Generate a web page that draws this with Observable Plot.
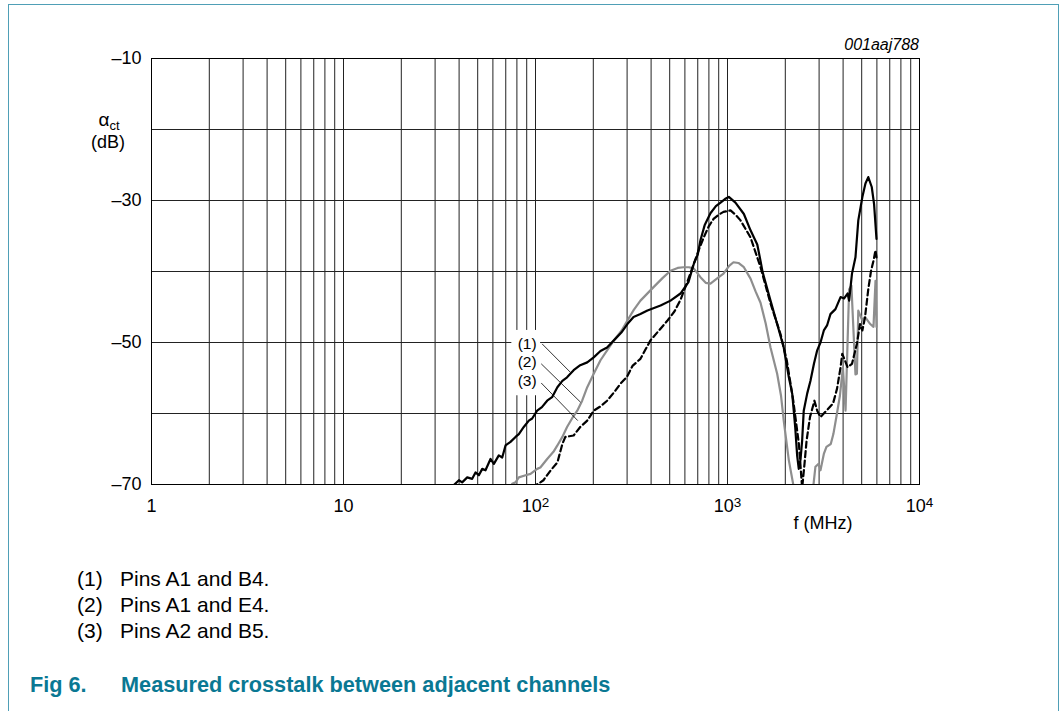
<!DOCTYPE html>
<html>
<head>
<meta charset="utf-8">
<script src="https://cdn.jsdelivr.net/npm/d3@7"></script>
<script src="https://cdn.jsdelivr.net/npm/@observablehq/plot@0.6"></script>
<style>
  html, body { margin: 0; padding: 0; background: #fff; }
  body { font-family: "Liberation Sans", Arial, sans-serif; color: #000; }
  #wrap { position: relative; width: 1063px; height: 711px; overflow: hidden; }
  #border { position: absolute; left: 8px; top: 4px; width: 1049px; height: 780px;
            border: 1.5px solid #4f9fb6; border-bottom: none; }
  #chart { position: absolute; left: 0; top: 0; }
  .lbl { position: absolute; white-space: nowrap; line-height: 1; }
  .leg { position: absolute; font-size: 21px; line-height: 1; white-space: nowrap; }
  .cap { position: absolute; font-size: 21.7px; font-weight: bold; color: #0a7893; line-height: 1; white-space: nowrap; }
</style>
</head>
<body>
<div id="wrap">
  <div id="border"></div>
  <div id="chart"></div>
  <div class="lbl" style="right:144px; top:37px; font-size:16px; font-style:italic;">001aaj788</div>
  <div class="lbl" style="left:86px; top:110px; width:46px; text-align:center; font-size:19px;">α<span style="font-size:13px; position:relative; top:4px;">ct</span></div>
  <div class="lbl" style="left:84px; top:133px; width:48px; text-align:center; font-size:18px;">(dB)</div>
  <div class="lbl" style="left:782px; top:514px; width:82px; text-align:center; font-size:18px;">f (MHz)</div>
  <div id="legend"></div>
  <div class="cap" style="left:30px; top:674px;">Fig 6.</div>
  <div class="cap" style="left:121px; top:674px;">Measured crosstalk between adjacent channels</div>
</div>
<script>
// ---- Data ----
// Curve (1): Pins A1 and B4 (solid black)
const freq1 = [36, 37.5, 39.9, 41.5, 44.1, 46.8, 48.7, 50.7, 52.8, 54.9, 58.3, 60.7, 64.4, 67.1, 69.8, 74.1, 78.7, 81.9, 86.9, 92.3, 96.1, 102, 108, 115, 122, 130, 138, 146, 158, 171, 186, 201, 218, 236, 256, 280, 301, 324, 352, 383, 448, 505, 569, 626, 668, 700, 723, 760, 815, 870, 920, 970, 1016, 1100, 1217, 1318, 1429, 1486, 1521, 1675, 1814, 1963, 2087, 2173, 2252, 2307, 2351, 2400, 2448, 2495, 2600, 2705, 2820, 2932, 3050, 3175, 3300, 3437, 3650, 3880, 4050, 4220, 4300, 4450, 4640, 4800, 5040, 5230, 5410, 5640, 5800, 5970];
const db1   = [-70.8, -70.1, -69.4, -69.7, -69.0, -69.2, -68.3, -68.7, -67.8, -68.0, -66.4, -67.1, -65.9, -66.2, -64.5, -64.0, -63.3, -62.9, -61.9, -61.0, -60.7, -59.6, -59.1, -58.2, -57.7, -56.3, -55.4, -54.9, -53.9, -53.2, -52.8, -52.1, -51.2, -50.7, -49.7, -48.6, -47.4, -46.4, -46.0, -45.5, -44.8, -44.1, -43.1, -41.5, -38.9, -37.6, -35.6, -33.5, -31.8, -30.8, -30.3, -29.8, -29.5, -30.3, -31.9, -34.2, -36.2, -38.5, -40.0, -44.1, -47.4, -50.7, -54.9, -57.2, -61.9, -66.0, -67.8, -66.5, -63.8, -59.6, -57.2, -55.4, -53.0, -51.1, -50.0, -48.3, -47.6, -46.0, -45.3, -43.6, -43.8, -43.1, -44.1, -40.3, -38.0, -32.8, -29.5, -27.6, -26.7, -28.1, -30.5, -35.4];

// Curve (2): Pins A1 and E4 (dashed black)
const freq2 = [98, 100, 106, 110, 120, 130, 138, 143, 150, 158, 171, 186, 201, 218, 236, 257, 277, 300, 320, 352, 397, 440, 487, 530, 569, 613, 668, 710, 752, 800, 846, 900, 953, 1037, 1100, 1169, 1318, 1486, 1675, 1888, 2035, 2201, 2354, 2448, 2520, 2582, 2690, 2836, 2932, 3050, 3276, 3545, 3720, 3880, 3960, 4100, 4220, 4450, 4720, 4900, 5040, 5200, 5410, 5600, 5760, 5900, 5970];
const db2   = [-70.6, -70.1, -69.7, -69.4, -68.0, -66.9, -64.3, -63.3, -63.2, -63.1, -61.9, -61.0, -59.6, -59.0, -58.2, -57.0, -55.8, -54.8, -53.3, -52.3, -49.7, -48.3, -46.9, -45.6, -44.0, -41.7, -38.9, -36.9, -35.2, -33.6, -32.6, -32.0, -31.6, -31.4, -32.0, -32.8, -35.2, -39.4, -44.5, -48.8, -52.5, -58.2, -64.3, -70.5, -67.0, -63.8, -60.5, -58.2, -59.6, -60.5, -59.6, -58.6, -56.5, -53.5, -51.6, -52.6, -53.5, -53.0, -50.2, -47.4, -48.3, -46.5, -42.5, -39.8, -38.5, -37.0, -38.0];

// Curve (3): Pins A2 and B5 (grey)
const freq3 = [75.6, 78.7, 81.9, 88.8, 94.2, 102, 106, 115, 124, 130, 138, 146, 155, 165, 175, 186, 201, 218, 236, 256, 281, 301, 325, 352, 412, 460, 505, 550, 590, 630, 668, 723, 770, 815, 880, 953, 1020, 1074, 1140, 1217, 1318, 1400, 1486, 1580, 1675, 1814, 1900, 1963, 2087, 2200, 2450, 2805, 2870, 2980, 3050, 3175, 3276, 3450, 3560, 3690, 3850, 3990, 4120, 4300, 4420, 4640, 4720, 4800, 5040, 5200, 5540, 5760, 5900, 5970];
const db3   = [-69.9, -69.7, -69.0, -68.7, -68.5, -67.8, -67.6, -66.4, -65.4, -64.5, -63.3, -61.9, -60.7, -59.6, -58.2, -56.3, -54.4, -52.5, -51.1, -49.7, -48.3, -46.9, -45.4, -44.1, -42.2, -40.9, -39.9, -39.5, -39.4, -39.4, -39.6, -40.8, -41.6, -41.7, -41.0, -40.3, -39.2, -38.7, -38.8, -39.4, -41.0, -42.8, -44.4, -47.3, -50.7, -54.4, -57.5, -61.0, -66.6, -70.0, -80.0, -70.0, -67.5, -67.1, -68.0, -65.7, -64.7, -64.3, -62.9, -60.5, -57.5, -53.5, -59.6, -42.5, -42.0, -54.5, -54.4, -45.5, -46.9, -46.4, -47.4, -47.8, -41.3, -47.8];

// Axes
const xGridValues = [1,2,3,4,5,6,7,8,9,10,20,30,40,50,60,70,80,90,100,200,300,400,500,600,700,800,900,1000,2000,3000,4000,5000,6000,7000,8000,9000,10000];
const xTickValues = [1, 10, 100, 1000, 10000];
const xTickLabels = ["1", "10", "10^2", "10^3", "10^4"];
const yGridValues = [-10, -20, -30, -40, -50, -60, -70];
const yTickValues = [-10, -30, -50, -70];
const yTickLabels = ["–10", "–30", "–50", "–70"];

// Curve labels and their leader lines
const curveLabels = ["(1)", "(2)", "(3)"];
const labelFreq = [90.5, 90.5, 90.5];
const labelDb = [-50.2, -52.8, -55.4];
const leaderF1 = [108.3, 107.1, 107.1];
const leaderDb1 = [-50.2, -53.0, -55.7];
const leaderF2 = [152, 171.5, 166];
const leaderDb2 = [-54.2, -58.4, -61.0];
const labelBoxF = [75.3, 106.3];
const labelBoxDb = [-48.3, -57.5];

// Legend
const legendKeys = ["(1)", "(2)", "(3)"];
const legendTexts = ["Pins A1 and B4.", "Pins A1 and E4.", "Pins A2 and B5."];

// ---- Build tables ----
const s1 = freq1.map((f, i) => ({f, db: db1[i]}));
const s2 = freq2.map((f, i) => ({f, db: db2[i]}));
const s3 = freq3.map((f, i) => ({f, db: db3[i]}));
const labels = curveLabels.map((t, i) => ({t, f: labelFreq[i], db: labelDb[i]}));
const leaders = curveLabels.map((t, i) => ({x1: leaderF1[i], y1: leaderDb1[i], x2: leaderF2[i], y2: leaderDb2[i]}));
const box = [{x1: labelBoxF[0], x2: labelBoxF[1], y1: labelBoxDb[0], y2: labelBoxDb[1]}];

const font = "'Liberation Sans', Arial, Helvetica, sans-serif";
const chart = Plot.plot({
  width: 1063,
  height: 540,
  marginLeft: 151,
  marginRight: 144,
  marginTop: 58,
  marginBottom: 56,
  x: {type: "log", domain: [1, 10000]},
  y: {domain: [-70, -10]},
  style: {fontFamily: font, fontSize: "18px", color: "#000", background: "transparent", overflow: "visible"},
  marks: [
    Plot.ruleX(xGridValues, {stroke: "#222", strokeWidth: 1}),
    Plot.ruleY(yGridValues, {stroke: "#222", strokeWidth: 1}),
    Plot.rect(box, {x1: "x1", x2: "x2", y1: "y1", y2: "y2", fill: "white"}),
    Plot.frame({stroke: "#000", strokeWidth: 1}),
    Plot.line(s3, {x: "f", y: "db", stroke: "#8e8e8e", strokeWidth: 2.2, clip: true}),
    Plot.line(s2, {x: "f", y: "db", stroke: "#000", strokeWidth: 2.2, strokeDasharray: "6,3.5", clip: true}),
    Plot.line(s1, {x: "f", y: "db", stroke: "#000", strokeWidth: 2.2, clip: true}),
    Plot.link(leaders, {x1: "x1", y1: "y1", x2: "x2", y2: "y2", stroke: "#000", strokeWidth: 0.8}),
    Plot.text(labels, {x: "f", y: "db", text: "t", fontSize: 15.5, fill: "#000"}),
    Plot.axisX(xTickValues, {tickSize: 0, tickPadding: 15, fontSize: 18, label: null,
      tickFormat: d => xTickLabels[xTickValues.indexOf(d)]}),
    Plot.axisY(yTickValues, {tickSize: 0, tickPadding: 10, fontSize: 18, label: null,
      tickFormat: d => yTickLabels[yTickValues.indexOf(d)]})
  ]
});
document.getElementById("chart").appendChild(chart);

// Turn "10^n" tick labels into a base with a raised exponent
d3.select(chart).selectAll("text").each(function () {
  const t = this.textContent;
  if (t.includes("^")) {
    const [base, exp] = t.split("^");
    const sel = d3.select(this);
    sel.text(null);
    sel.append("tspan").text(base);
    sel.append("tspan").attr("dy", "-0.42em").attr("font-size", "0.75em").text(exp);
  }
});

// Legend below the chart
const legendTops = [568, 594, 620];
const legend = document.getElementById("legend");
legendKeys.forEach((k, i) => {
  const a = document.createElement("div");
  a.className = "leg"; a.style.left = "77px"; a.style.top = legendTops[i] + "px"; a.textContent = k;
  const b = document.createElement("div");
  b.className = "leg"; b.style.left = "120px"; b.style.top = legendTops[i] + "px"; b.textContent = legendTexts[i];
  legend.appendChild(a); legend.appendChild(b);
});
</script>
</body>
</html>
